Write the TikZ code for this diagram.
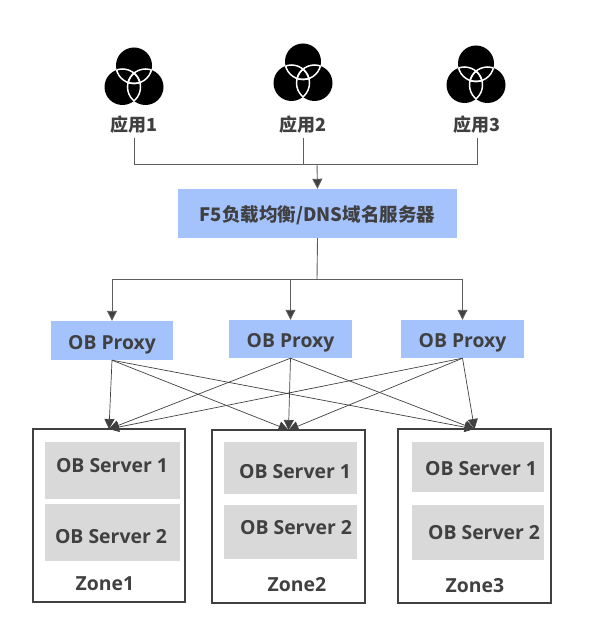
\documentclass[tikz,border=0pt]{standalone}
\usepackage{fontspec}
\setmainfont{Open Sans}
\newfontfamily\cjk{Noto Sans CJK SC}
\usepackage{tikz}
\usetikzlibrary{arrows.meta}
\definecolor{textgray}{HTML}{404040}
\definecolor{boxblue}{HTML}{A4C2FC}
\definecolor{boxgray}{HTML}{D9D9D9}

\begin{document}
\begin{tikzpicture}[x=1pt,y=-1pt,
  applabel/.style={text=textgray,font=\cjk\bfseries\fontsize{18}{18}\selectfont,minimum height=26pt,inner sep=0pt},
  bluebox/.style={fill=boxblue,text=textgray,font=\bfseries\fontsize{19.3}{19}\selectfont,inner sep=0pt,text height=17pt,text depth=0pt},
  srvbox/.style={fill=boxgray,inner sep=0pt},
  srvtext/.style={text=textgray,font=\bfseries\fontsize{19.4}{19}\selectfont,inner sep=0pt},
  zonebox/.style={draw=textgray,line width=1.5pt,inner sep=0pt},
  feed/.style={draw=textgray!85,line width=0.9pt,-{Triangle[length=10pt,width=10pt,fill=textgray]}},
  link/.style={draw=textgray,line width=0.7pt,-{Triangle[length=10pt,width=10pt,fill=textgray]}},
  plain/.style={draw=textgray!85,line width=0.9pt},
  venn/.pic={
    \fill (0,-11.5) circle (18); \fill (-11.5,10) circle (18); \fill (11.5,10) circle (18);
    \begin{scope}[white,line width=1.5pt]
      \begin{scope}\clip (-11.5,10) circle (18); \draw (0,-11.5) circle (18); \draw (11.5,10) circle (18); \end{scope}
      \begin{scope}\clip (0,-11.5) circle (18); \draw (-11.5,10) circle (18); \draw (11.5,10) circle (18); \end{scope}
      \begin{scope}\clip (11.5,10) circle (18); \draw (-11.5,10) circle (18); \draw (0,-11.5) circle (18); \end{scope}
    \end{scope}
  }]
  \useasboundingbox (0,0) rectangle (596,617);
  % applications
  \pic at (134,77) {venn};
  \pic at (303,73) {venn};
  \pic at (476,75) {venn};
  \node[applabel] (app1) at (134,125) {应用1};
  \node[applabel] (app2) at (303,124.5) {应用2};
  \node[applabel] (app3) at (477,125) {应用3};
  \node[bluebox,minimum width=279pt,minimum height=49pt] (f5) at (317.5,213.5)
    {\cjk\bfseries\fontsize{18.5}{19}\selectfont F5负载均衡/DNS域名服务器};
  \coordinate (merge) at (317,164);
  \coordinate (split) at (317,279);
  % proxies
  \node[bluebox,minimum width=122pt,minimum height=39pt] (proxy1) at (112,340.5) {OB Proxy};
  \node[bluebox,minimum width=123pt,minimum height=38pt] (proxy2) at (290.5,339) {OB Proxy};
  \node[bluebox,minimum width=123pt,minimum height=38pt] (proxy3) at (462.5,339) {OB Proxy};
  % zones
  \node[zonebox,minimum width=152pt,minimum height=173pt] (zone1) at (109,515.5) {};
  \node[zonebox,minimum width=153pt,minimum height=173pt] (zone2) at (288.5,516.5) {};
  \node[zonebox,minimum width=153pt,minimum height=174pt] (zone3) at (474.5,516) {};
  \node[srvbox,minimum width=135pt,minimum height=57pt] (s11) at (112.5,470.5) {};
  \node[srvbox,minimum width=135pt,minimum height=57pt] (s12) at (112.5,532.5) {};
  \node[srvbox,minimum width=133pt,minimum height=52pt] (s21) at (290.5,468) {};
  \node[srvbox,minimum width=133pt,minimum height=54pt] (s22) at (290.5,532) {};
  \node[srvbox,minimum width=132pt,minimum height=50pt] (s31) at (478,467) {};
  \node[srvbox,minimum width=132pt,minimum height=55pt] (s32) at (478,532.5) {};
  \node[srvtext] (t11) at (112,466) {OB Server 1};
  \node[srvtext] (t12) at (111,537) {OB Server 2};
  \node[srvtext] (t21) at (295,472) {OB Server 1};
  \node[srvtext] (t22) at (296,528) {OB Server 2};
  \node[srvtext] (t31) at (481,469) {OB Server 1};
  \node[srvtext] (t32) at (484,533) {OB Server 2};
  \node[srvtext] (z1) at (105,584) {Zone1};
  \node[srvtext] (z2) at (297,585) {Zone2};
  \node[srvtext] (z3) at (475,586) {Zone3};
  % connectors
  \draw[plain] (app1.south) |- (merge);
  \draw[plain] (app2.south) |- (merge);
  \draw[plain] (app3.south) |- (merge);
  \draw[feed] (merge) -- (f5.north);
  \draw[plain] (f5.south) -- (split);
  \draw[feed] (split) -| (proxy1.north);
  \draw[feed] (split) -| (proxy2.north);
  \draw[feed] (split) -| (proxy3.north);
  \coordinate (in1) at (109,429);
  \coordinate (in2) at (288.5,430);
  \coordinate (in3) at (474.5,429);
  \foreach \p in {1,2,3}
    \foreach \z in {1,2,3}
      \draw[link] (proxy\p.south) -- (in\z);
\end{tikzpicture}
\end{document}
